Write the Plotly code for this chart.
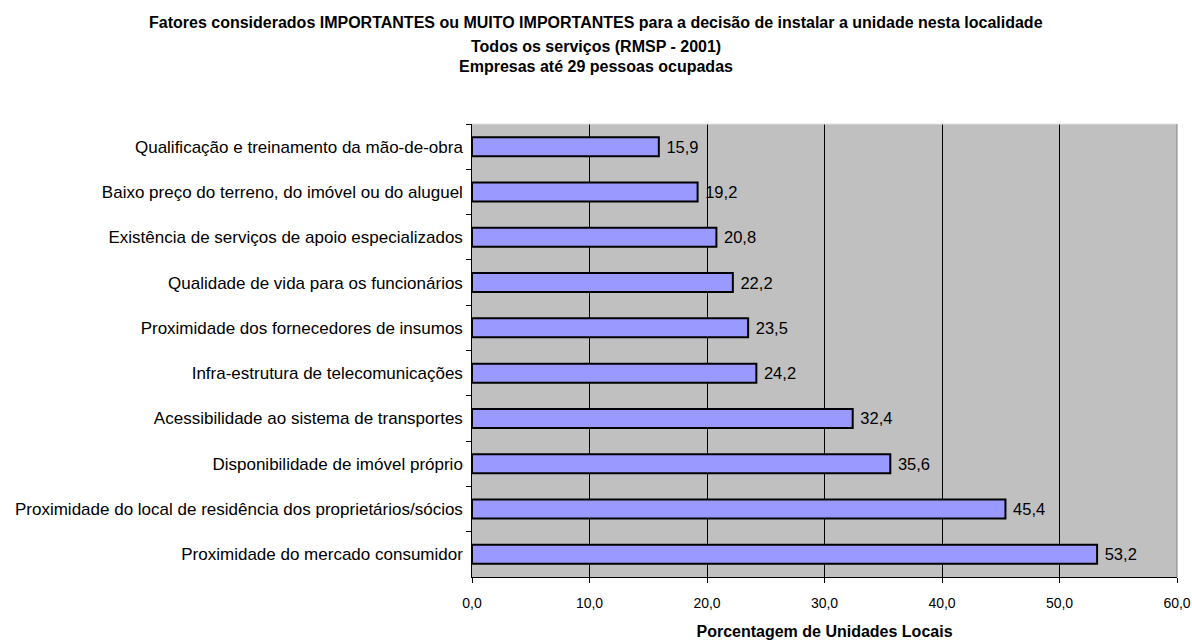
import plotly.graph_objects as go

# Factors, listed top to bottom as shown in the chart
factors = [
    "Qualificação e treinamento da mão-de-obra",
    "Baixo preço do terreno, do imóvel ou do aluguel",
    "Existência de serviços de apoio especializados",
    "Qualidade de vida para os funcionários",
    "Proximidade dos fornecedores de insumos",
    "Infra-estrutura de telecomunicações",
    "Acessibilidade ao sistema de transportes",
    "Disponibilidade de imóvel próprio",
    "Proximidade do local de residência dos proprietários/sócios",
    "Proximidade do mercado consumidor",
]
percentages = [15.9, 19.2, 20.8, 22.2, 23.5, 24.2, 32.4, 35.6, 45.4, 53.2]
x_ticks = [0, 10, 20, 30, 40, 50, 60]

title_lines = [
    "Fatores considerados IMPORTANTES ou MUITO IMPORTANTES para a decisão de instalar a unidade nesta localidade",
    "Todos os serviços (RMSP - 2001)",
    "Empresas até 29 pessoas ocupadas",
]
title_y = [1.223, 1.172, 1.126]

FONT = "Liberation Sans, Arial, sans-serif"

fig = go.Figure(
    go.Bar(
        x=percentages,
        y=factors,
        orientation="h",
        marker=dict(color="#9999FF", line=dict(color="#000000", width=2)),
        text=["\u00a0" + f"{v:.1f}".replace(".", ",") for v in percentages],
        textposition="outside",
        textfont=dict(family=FONT, size=16.5, color="#000000"),
        cliponaxis=False,
        width=0.42,
    )
)

annotations = [
    dict(
        text=f"<b>{line}</b>",
        xref="paper", yref="paper",
        x=(596 - 472) / 705, y=ty,
        xanchor="center", yanchor="middle",
        showarrow=False,
        font=dict(family=FONT, size=16, color="#000000"),
    )
    for line, ty in zip(title_lines, title_y)
]

fig.update_layout(
    width=1192,
    height=641,
    margin=dict(l=472, r=15, t=124, b=64, autoexpand=False),
    paper_bgcolor="#FFFFFF",
    plot_bgcolor="#C0C0C0",
    separators=",.",
    showlegend=False,
    font=dict(family=FONT, size=14, color="#000000"),
    annotations=annotations,
    xaxis=dict(
        range=[0, 60],
        tickvals=x_ticks,
        tickformat=".1f",
        automargin=False,
        showgrid=True,
        gridcolor="#000000",
        gridwidth=1,
        zeroline=False,
        showline=True,
        linecolor="#000000",
        linewidth=1,
        ticks="outside",
        ticklen=5,
        tickcolor="#000000",
        tickfont=dict(size=14),
        ticklabelstandoff=8,
        title=dict(
            text="<b>Porcentagem de Unidades Locais</b>",
            font=dict(size=16),
            standoff=16,
        ),
    ),
    yaxis=dict(
        autorange="reversed",
        automargin=False,
        showline=True,
        linecolor="#000000",
        linewidth=1,
        ticks="outside",
        ticklen=5,
        tickcolor="#000000",
        tickson="boundaries",
        showgrid=False,
        tickfont=dict(size=17),
        ticksuffix=" ",
    ),
    shapes=[
        dict(type="line", xref="paper", yref="paper", x0=0, x1=1, y0=1, y1=1,
             line=dict(color="#E0E0E0", width=1)),
        dict(type="line", xref="paper", yref="paper", x0=1, x1=1, y0=0, y1=1,
             line=dict(color="#808080", width=1)),
    ],
)

fig.write_html("out.html")
